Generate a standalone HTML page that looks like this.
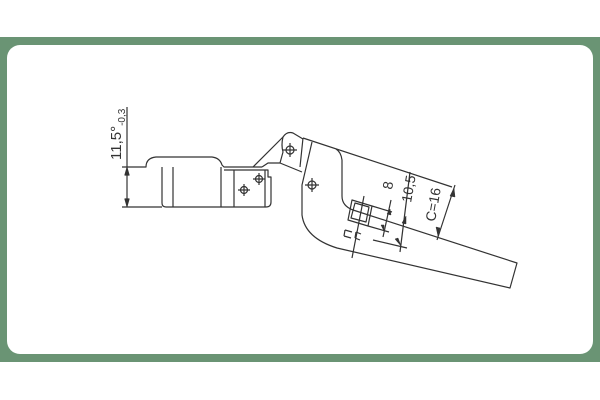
<!DOCTYPE html>
<html><head><meta charset="utf-8"><style>
html,body{margin:0;padding:0;background:#fff;width:600px;height:400px;overflow:hidden}
</style></head><body>
<svg width="600" height="400" viewBox="0 0 600 400" xmlns="http://www.w3.org/2000/svg">
<rect x="0" y="37" width="600" height="325" fill="#6a9474"/>
<rect x="7" y="45" width="586" height="309" rx="13" fill="#fff"/>
<g fill="none" stroke="#333" stroke-width="1.2" stroke-linejoin="round">
<!-- left dim -->
<line x1="127" y1="107" x2="127" y2="207"/>
<line x1="122" y1="167" x2="142" y2="167"/>
<line x1="122" y1="207" x2="162" y2="207"/>
<path d="M125,175 L127,168 L129,175 Z M125,199 L127,206 L129,199 Z" fill="#333"/>
<!-- cup -->
<path d="M142,167 L146,167 Q146,158 156,157 L212,157 Q220,158 222,165 L224,167 L262,167"/>
<path d="M162,167 L162,203 Q162,207 166,207 L221,207 L221,167"/>
<line x1="173" y1="167" x2="173" y2="207"/>
<path d="M224,170 L268,170 L268,177 L271,177 L271,202 Q271,207 266,207 L221,207"/>
<line x1="234" y1="170" x2="234" y2="207"/>
<line x1="265" y1="170" x2="265" y2="207"/>
<circle cx="244" cy="190" r="3.5"/><path d="M238,190h12M244,184v12"/>
<circle cx="259" cy="179" r="3.5"/><path d="M253,179h12M259,173v12"/>
<!-- link -->
<path d="M253,167 L283,137 Q287,131 293,133 L303,139"/>
<path d="M262,167 L268,163 L280,163 L302,172"/>
<path d="M283,137 Q281,145 283,152 L280,163"/>
<circle cx="290" cy="150" r="4"/><path d="M283,150h14M290,143v14"/>
<!-- big arm -->
<path d="M303,138 L452,187"/>
<path d="M303,138 L300,167"/>
<path d="M312,142 L302,185 L302,215 Q305,238 337,248 L510,288 L517,263 L353,210 Q342,206 342,196 L342,160 Q341,152 336,149"/>
<circle cx="312" cy="185" r="4"/><path d="M305,185h14M312,178v14"/>
<!-- screw -->
<path d="M352,200 L372,206 L368,226 L348,220 Z"/>
<path d="M355,203 L369,207 L366,222 L351,218 Z"/>
<path d="M345,230 L352,232 M344,236 L351,238 M356,232 L361,234 M355,238 L360,240 M345,230 L344,236 M356,232 L355,238"/>
<line x1="364" y1="196" x2="352" y2="258"/>
<!-- dims -->
<line x1="372" y1="206" x2="392" y2="212"/>
<line x1="368" y1="226" x2="389" y2="232"/>
<line x1="373" y1="240" x2="407" y2="248"/>
<line x1="391" y1="200" x2="383" y2="237"/>
<path d="M387,214 L390,209 L391,215 Z M384,225 L384,231 L381,225 Z" fill="#333" stroke-width="0.5"/>
<line x1="410" y1="172" x2="400" y2="252"/>
<path d="M402,223 L406,216 L406,224 Z M398,238 L401,246 L395,239 Z" fill="#333" stroke-width="0.5"/>
<line x1="455" y1="185" x2="437" y2="240"/>
<path d="M450,196 L454,188 L455,197 Z M440,228 L438,236 L436,227 Z" fill="#333" stroke-width="0.5"/>
</g>
<g font-family="Liberation Sans, sans-serif" fill="#333" font-size="15">
<text transform="translate(121,160) rotate(-90)">11,5°<tspan font-size="10" dy="4">-0,3</tspan></text>
<text transform="translate(392,190) rotate(-80)" font-size="14">8</text>
<text transform="translate(411,203) rotate(-80)" font-size="14">10,5</text>
<text transform="translate(435,222) rotate(-80)" font-size="14">C=16</text>
</g>
</svg>
</body></html>
